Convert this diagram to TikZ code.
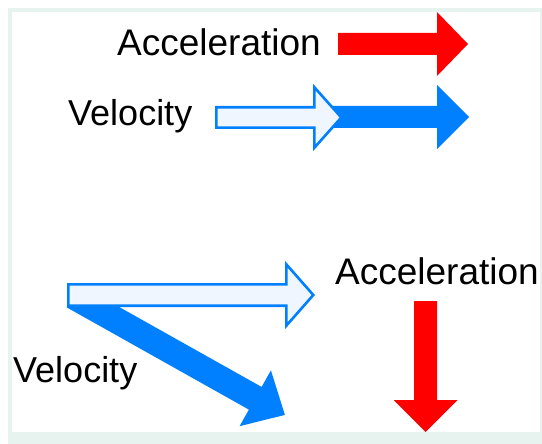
\documentclass[tikz,border=0pt]{standalone}
\usepackage{fontspec}
\setmainfont{Liberation Sans}
\usetikzlibrary{positioning}
\definecolor{velblue}{HTML}{0080FF}
\definecolor{velpale}{HTML}{F0F6FF}
\definecolor{accred}{HTML}{FF0000}
\definecolor{framemint}{HTML}{E6F3EE}

% block arrow: length / shaft half width / head length / head half width
\tikzset{
  pics/fatarrow/.style args={#1/#2/#3/#4}{code={
    \path[pic actions] (0,-#2) -- (#1-#3,-#2) -- (#1-#3,-#4) -- (#1,0)
      -- (#1-#3,#4) -- (#1-#3,#2) -- (0,#2) -- cycle;
  }}
}

\begin{document}
\begin{tikzpicture}[x=1pt, y=-1pt,
    label/.style={anchor=base west, inner sep=0pt},
    accfill/.style={fill=accred},
    velfill/.style={fill=velblue},
    velghost/.style={draw=velblue, fill=velpale, line width=2.6pt, miter limit=10}]
  \useasboundingbox (0,0) rectangle (542,444);
  \fill[white] (0,0) rectangle (542,444);
  \fill[framemint] (8,8) rectangle (542,444);
  \fill[white] (12,12) rectangle (540,432);

  % straight line motion
  \pic[accfill] at (338,44) {fatarrow=130/11/31/32};
  \pic[velfill] at (320,117) {fatarrow=149/11/32/32};
  \pic[velghost] at (216.3,117.5) {fatarrow=125/10.2/27/30.3};
  \node[label, font=\fontsize{37}{40}\selectfont] (acctop) at (117,56) {Acceleration};
  \node[label, font=\fontsize{36}{40}\selectfont] (veltop) at (68,126) {Velocity};

  % curved motion
  \pic[velfill, rotate=-29.3] at (73,296) {fatarrow=243/13/34/32};
  \pic[velghost] at (68.3,295) {fatarrow=245/10.7/27/30.7};
  \pic[accfill, rotate=-90] at (425.5,301) {fatarrow=131/11.5/32/32};
  \node[label, font=\fontsize{37}{40}\selectfont] (accbot) at (335,284) {Acceleration};
  \node[label, font=\fontsize{36}{40}\selectfont] (velbot) at (13,382) {Velocity};
\end{tikzpicture}
\end{document}
